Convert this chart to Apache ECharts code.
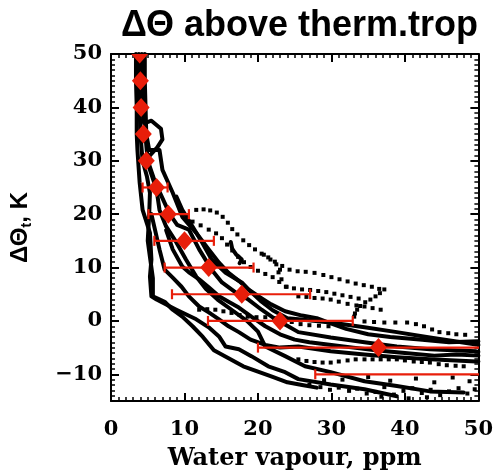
<!DOCTYPE html>
<html>
<head>
<meta charset="utf-8">
<script src="https://cdn.jsdelivr.net/npm/echarts@6/dist/echarts.min.js"></script>
<style>html,body{margin:0;padding:0;background:#fff;}#c{width:496px;height:476px;}</style>
</head>
<body>
<div id="c"></div>
<script>
// ---- tick labels ----
const xTicks = [0, 10, 20, 30, 40, 50];
const yTicks = [-10, 0, 10, 20, 30, 40, 50];

// ---- mean profile (red diamonds) ----
const meanX = [3.9, 4.0, 4.1, 4.4, 4.8, 6.2, 7.8, 10.0, 13.3, 17.8, 23.0, 36.4];
const meanY = [50, 45, 40, 35, 30, 25, 20, 15, 10, 5, 0, -5];

// ---- horizontal error bars ----
const errY  = [25, 20, 15, 10, 5, 0, -5, -10];
const errLo = [4.3, 5.1, 5.9, 7.3, 8.3, 13.2, 20.0, 27.8];
const errHi = [7.7, 10.6, 14.0, 19.4, 27.1, 32.9, 55, 60];

// ---- individual profiles, dense parts (x = ppm, y = K) ----
const prof1 = [[3.4,50],[3.4,45],[3.5,40],[3.5,35],[3.6,32],[3.9,25.9],[4.3,20.8],[5.3,16.5],[5.5,11.5],[5.3,8.3],[5.5,4.6],[6.2,4],[8.9,2.1],[11.6,0.3],[13.3,-1.2],[14.7,-2.9],[15.6,-4.8],[17.4,-5.3],[19.1,-6.6],[21.4,-8.5],[23.7,-9.6],[25.5,-10.9],[29.9,-11.9],[34.5,-12.8],[38.9,-14.1]];
const prof2 = [[3.8,50],[3.8,45],[3.9,40],[4.0,35],[4.3,30],[4.9,27],[5.3,24],[5.2,20],[5.0,15],[5.3,12],[5.7,8],[5.7,4.6],[7.3,3.6],[8.4,2.1],[9.7,0.8],[11.1,-1],[12.5,-3],[14,-5.5],[16,-7],[18,-8.5],[20,-9.5],[22,-10.5],[24,-11.5],[26,-12],[28,-12.5]];
const prof3 = [[4.2,50],[4.2,45],[4.3,40],[4.5,37],[5.5,37.5],[6.8,36],[7.0,34],[6.3,32.5],[5.3,31],[4.9,30],[5.3,28.3],[6.2,24.6],[6.6,20.8],[7.5,17.7],[8.9,14.7],[10.2,11.5],[11.6,8.3],[12.9,6],[14.5,4],[16.5,2],[18.5,0],[20,-2],[21,-4.8],[23.7,-6.6],[26.4,-8.5],[29.9,-9.6],[34.5,-11.3],[38.9,-12.2],[43.4,-13.2],[48,-13.4]];
const prof4 = [[4.6,50],[4.6,45],[4.7,40],[4.8,35],[5.2,32],[6.6,32],[7.0,28.3],[8.4,24],[9.7,19.5],[11.6,16.5],[13.3,13.4],[14.7,10.9],[16,9],[17.4,7.5],[19,5.5],[20.5,3.6],[22,2],[24,0.5],[25.5,0.3],[29.9,-0.3],[34.5,-1.2],[38.9,-2.1],[43.4,-3.1],[49.7,-4.4],[50,-4.5]];
const prof5 = [[4.4,48],[4.5,42],[4.6,36],[5,30],[6,26],[7,23],[8,20],[9,18],[10.6,17.1],[12,13.4],[13.7,9.6],[15.1,7.2],[17,5.3],[18.7,4],[20.5,2.1],[22.4,0.3],[24.1,-1],[25.5,-2.1],[29.9,-3.1],[34.5,-4],[38.9,-4.8],[43.4,-5.3],[49.7,-5.7],[50,-5.8]];
const prof6 = [[5.5,20],[6,17],[6.6,13.4],[7.3,9.6],[8.4,8.1],[9.6,6.4],[10.6,4.6],[12,2.7],[13.3,1.6],[14.7,0.3],[16,-1],[17.4,-2.1],[19,-3.5],[21,-4.5],[23,-5],[25.5,-4.8],[29.9,-5.7],[34.5,-6.3],[38.9,-6.8],[43.4,-7.2],[49.7,-7.6],[50,-7.6]];
const prof7 = [[7.5,17],[8,15],[8.4,13.4],[9.7,10.2],[10.6,9.1],[12,7.8],[13.3,6.3],[14.7,4.6],[16,3.6],[17.4,2.5],[19.1,0.8],[21,-1],[23,-2.5],[25,-3.5],[27,-4],[30,-4.5],[33,-5],[36,-5.5],[40,-6],[44,-6.5],[47,-6.3],[50,-6.5]];
const prof8 = [[8.9,23.3],[9.7,20.8],[11.1,17.7],[12.4,14.7],[13.7,11.5],[15.6,9],[17.8,7.2],[18.7,5.9],[20.1,4.6],[21.8,3.1],[23.7,1.8],[26,1],[28,0.5],[30,-0.5],[32,-1.5],[35,-2.5],[38,-3],[42,-3.5],[46,-4],[50,-3.8]];
const prof9 = [[16.3,14.8],[16.5,13.5],[17,12.5],[17.8,11.5],[17.5,10.8]];

// ---- individual profiles, sparse (dotted) parts ----
const dots1 = [[11.6,20.8],[12.6,20.9],[13.5,20.7],[14.4,20.3],[15.2,19.5],[15.9,18.4],[16.5,17.2],[17.2,16.2],[18,15.1],[18.8,14.2],[19.6,13.4],[20.5,12.6],[21.4,11.9],[22.3,11.1],[23.3,10.3],[24.3,9.6],[25.4,9.3],[26.5,9.2],[27.7,9],[28.9,8.6],[30,8.2],[31.1,7.8],[32.2,7.4],[33.3,7],[34.4,6.7],[35.5,6.4],[36.5,6]];
const dots2 = [[11.1,18.6],[12.2,17.9],[13.3,17.1],[14.3,16.4],[15.1,15.5],[15.8,14.3],[16.5,13.2],[17.3,12],[18.1,11],[19,10.1],[20,9.4],[21,8.8],[22,8.2],[22.9,7.3],[23.8,6.4],[24.9,6.1],[26,5.9],[27.1,5.8],[28.2,5.6],[29.3,5.4],[30.4,5.1],[31.5,4.8],[32.6,4.5],[33.7,4.2]];
const dots3 = [[12,2.1],[13.1,2.2],[14.2,2.1],[15.3,1.8],[16.4,1.5],[17.5,1.1],[18.6,0.8],[19.8,0.7],[21,0.7],[22.2,0.5],[23.4,0.3],[24.6,-0.2],[25.8,-0.6],[27,-0.8],[28.3,-0.9],[29.6,-1]];
const dots4 = [[25.5,4.6],[26.6,4.5],[27.7,4.3],[28.8,4.2],[29.9,4],[31,3.6],[32.2,3.2],[33.4,2.9],[34.5,2.7],[35.6,2.4],[36.7,2.1]];
const dots5 = [[37.2,5.9],[36.6,5.2],[36,4.6],[35.3,4],[34.6,3.5],[33.9,2.8],[33.5,2.1],[33.2,1.4],[33.1,0.8],[20.8,12.4],[21.7,11.5],[22.5,10.6],[23,9.6],[22.8,9.1],[23.2,7.8],[23.9,6.4]];
const dots6 = [[34.5,-0.1],[35.8,-0.2],[37.2,-0.3],[38.7,-0.3],[40.3,-0.3],[41.5,-0.6],[42.6,-1],[43.7,-1.6],[44.7,-2.1],[45.9,-2.3],[47,-2.5],[48.2,-2.6]];
const dots7 = [[25.5,-7.2],[26.6,-7.5],[27.7,-7.7],[28.8,-7.8],[29.9,-7.8],[31,-7.6],[32.2,-7.4],[33.3,-7.2],[34.5,-7.2],[35.6,-7.2],[36.7,-7.2],[37.8,-7.2],[38.9,-7.2],[40,-7.4],[41.2,-7.6],[42.3,-7.7],[43.4,-7.8],[44.6,-8.1],[45.7,-8.3],[46.9,-8.4],[48,-8.5]];
const dots8 = [[27,-12],[28.5,-12.4],[29.8,-12.9],[31,-12.5],[32.4,-13.1],[33.5,-12.7],[34.8,-13.6],[36,-13.3],[37.2,-12.4],[38.5,-13.8],[39.8,-13.1],[41,-12.6],[42.3,-13.5],[43.5,-12.9],[44.8,-13.9],[46,-13.2],[47.3,-12.6],[48.5,-13.6],[49.5,-12.8],[31.5,-11],[35,-10.5],[38,-11.2],[41.5,-10.8],[44,-11.5],[46.5,-10.6],[48.8,-11.3],[29,-11.1],[36.8,-14.2],[40.5,-14.5],[43,-14.3]];

const RED = '#e81e0a';
const profiles = [prof1, prof2, prof3, prof4, prof5, prof6, prof7, prof8, prof9];
const dotSets = [dots1, dots2, dots3, dots4, dots5, dots6, dots7, dots8];

const series = [];
profiles.forEach(function (p) {
  series.push({ type: 'line', data: p, symbol: 'none', silent: true, z: 2,
    lineStyle: { color: '#000', width: 4, join: 'round', cap: 'round' }, clip: true, animation: false });
});
dotSets.forEach(function (d) {
  series.push({ type: 'scatter', data: d, symbol: 'rect', symbolSize: 4, z: 2,
    itemStyle: { color: '#000', opacity: 1 }, clip: true, animation: false });
});
series.push({
  type: 'custom', z: 5, clip: true, animation: false,
  data: errY.map(function (y, i) { return [errLo[i], errHi[i], y]; }),
  renderItem: function (params, api) {
    const a = api.coord([api.value(0), api.value(2)]);
    const b = api.coord([api.value(1), api.value(2)]);
    const h = 5;
    const st = { stroke: RED, lineWidth: 2.2 };
    return { type: 'group', children: [
      { type: 'line', shape: { x1: a[0], y1: a[1], x2: b[0], y2: b[1] }, style: st },
      { type: 'line', shape: { x1: a[0], y1: a[1] - h, x2: a[0], y2: a[1] + h }, style: st },
      { type: 'line', shape: { x1: b[0], y1: b[1] - h, x2: b[0], y2: b[1] + h }, style: st }
    ] };
  }
});
series.push({
  type: 'custom', z: 6, clip: true, animation: false,
  data: meanY.map(function (y, i) { return [meanX[i], y]; }),
  renderItem: function (params, api) {
    const c = api.coord([api.value(0), api.value(1)]);
    const w = 8.5, h = 9.5;
    return { type: 'polygon',
      shape: { points: [[c[0], c[1] - h], [c[0] + w, c[1]], [c[0], c[1] + h], [c[0] - w, c[1]]] },
      style: { fill: RED } };
  }
});

const tickFont = { fontFamily: 'DejaVu Serif', fontWeight: 'bold', fontSize: 21, color: '#000',
  formatter: function (v) { return String(v).replace('-', '\u2212'); } };
const lineSt = { show: true, onZero: false, lineStyle: { color: '#000', width: 2 } };

function xAx(pos) {
  return {
    type: 'value', position: pos, min: 0, max: 50, interval: 10,
    axisLine: lineSt, splitLine: { show: false },
    axisTick: { show: true, inside: true, length: 8, lineStyle: { color: '#000', width: 2 } },
    minorTick: { show: true, splitNumber: 10, length: 4, lineStyle: { color: '#000', width: 1.5 } },
    axisLabel: pos === 'bottom' ? Object.assign({ margin: 18, customValues: xTicks }, tickFont) : { show: false },
    name: pos === 'bottom' ? 'Water vapour, ppm' : '',
    nameLocation: 'middle', nameGap: 46,
    nameTextStyle: { fontFamily: 'DejaVu Serif', fontWeight: 'bold', fontSize: 24, color: '#000' }
  };
}
function yMajor(pos) {
  return {
    type: 'value', position: pos, min: -15, max: 50, interval: 5,
    axisLine: lineSt, splitLine: { show: false },
    axisTick: { show: true, inside: true, length: 8, customValues: yTicks, lineStyle: { color: '#000', width: 2 } },
    axisLabel: pos === 'left' ? Object.assign({ margin: 9, customValues: yTicks }, tickFont) : { show: false },
    name: pos === 'left' ? '{a|ΔΘ}{s|t}{a|, K}' : '',
    nameLocation: 'middle', nameGap: 77,
    nameTextStyle: { color: '#000', rich: {
      a: { fontFamily: 'Liberation Sans', fontWeight: 'bold', fontSize: 24, color: '#000' },
      s: { fontFamily: 'Liberation Sans', fontWeight: 'bold', fontSize: 15, color: '#000', padding: [12, 0, 0, 0] }
    } }
  };
}
function yMinor(pos) {
  return {
    type: 'value', position: pos, min: -15, max: 50, interval: 1,
    axisLine: { show: false, onZero: false }, splitLine: { show: false }, axisLabel: { show: false },
    axisTick: { show: true, inside: true, length: 4, lineStyle: { color: '#000', width: 1.5 } }
  };
}

const chart = echarts.init(document.getElementById('c'), null, { renderer: 'canvas' });
chart.setOption({
  backgroundColor: '#fff',
  animation: false,
  title: { text: 'ΔΘ above therm.trop', right: 13, top: 3,
    textStyle: { fontFamily: 'Liberation Sans', fontWeight: 'bold', fontSize: 36, color: '#000' } },
  grid: { left: 111, right: 14, top: 54, bottom: 74 },
  xAxis: [xAx('bottom'), xAx('top')],
  yAxis: [yMajor('left'), yMinor('left'), yMajor('right'), yMinor('right')],
  series: series
});
</script>
</body>
</html>
